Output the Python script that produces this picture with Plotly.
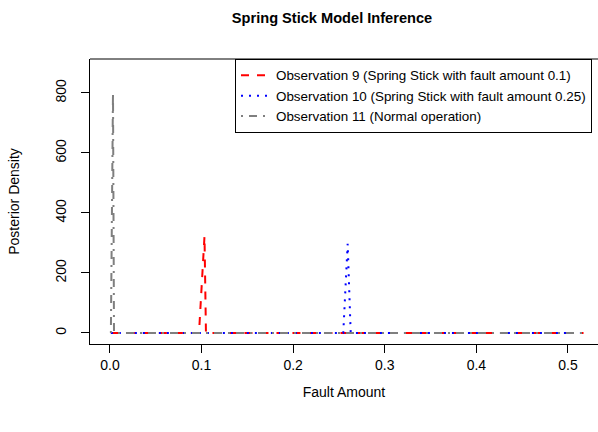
import plotly.graph_objects as go

# Data
obs9_x = [0.001, 0.0972, 0.1032, 0.1048, 0.517]
obs9_y = [0, 0, 322, 0, 0]
obs10_x = [0.001, 0.2547, 0.2595, 0.2620, 0.2628, 0.517]
obs10_y = [0, 0, 297, 22, 0, 0]
obs11_x = [0.001, 0.0033, 0.0044, 0.517]
obs11_y = [0, 800, 0, 0]

names = ["Observation 9 (Spring Stick with fault amount 0.1)",
         "Observation 10 (Spring Stick with fault amount 0.25)",
         "Observation 11 (Normal operation)"]

x_ticks = [0.0, 0.1, 0.2, 0.3, 0.4, 0.5]
x_ticktext = ["0.0", "0.1", "0.2", "0.3", "0.4", "0.5"]
y_ticks = [0, 200, 400, 600, 800]

FONT = "Liberation Sans, Arial, sans-serif"

fig = go.Figure()
fig.add_trace(go.Scatter(x=obs9_x, y=obs9_y, mode="lines", name=names[0],
                         line=dict(color="#FF0000", width=2, dash="8px,8px")))
fig.add_trace(go.Scatter(x=obs10_x, y=obs10_y, mode="lines", name=names[1],
                         line=dict(color="#0000FF", width=2, dash="2px,6px")))
fig.add_trace(go.Scatter(x=obs11_x, y=obs11_y, mode="lines", name=names[2],
                         line=dict(color="#7F7F7F", width=2, dash="2px,6px,8px,6px")))

fig.update_layout(
    width=598, height=432,
    margin=dict(l=90, r=0, t=59, b=88, autoexpand=False),
    paper_bgcolor="white", plot_bgcolor="white",
    font=dict(family=FONT, size=14, color="black"),
    title=dict(text="<b>Spring Stick Model Inference</b>", x=332 / 598, xanchor="center",
               y=1 - 18 / 432, yanchor="middle", font=dict(size=14.6)),
    showlegend=True,
    legend=dict(x=(235 - 90) / 508, y=1, xanchor="left", yanchor="top",
                bordercolor="black", borderwidth=1, bgcolor="white",
                font=dict(size=13.4), itemwidth=30, tracegroupgap=0),
    shapes=[dict(type="line", xref="paper", yref="paper", x0=0, x1=1, y0=1, y1=1,
                 line=dict(color="black", width=1))],
)
fig.update_xaxes(range=[-0.0218, 0.5328], tickvals=x_ticks, ticktext=x_ticktext,
                 showgrid=False, zeroline=False, showline=True, linecolor="black",
                 ticks="outside", ticklen=8, tickcolor="black", ticklabelstandoff=0,
                 tickfont=dict(size=14),
                 title=dict(text="Fault Amount", standoff=15, font=dict(size=14)))
fig.update_yaxes(range=[-37, 913], tickvals=y_ticks, tickangle=-90,
                 showgrid=False, zeroline=False, showline=True, linecolor="black",
                 ticks="outside", ticklen=8, tickcolor="black", ticklabelstandoff=9,
                 tickfont=dict(size=14),
                 title=dict(text="Posterior Density", standoff=30, font=dict(size=14)))

fig.write_html("out.html", config={"displayModeBar": False},
               post_script="document.body.style.margin='0';")
